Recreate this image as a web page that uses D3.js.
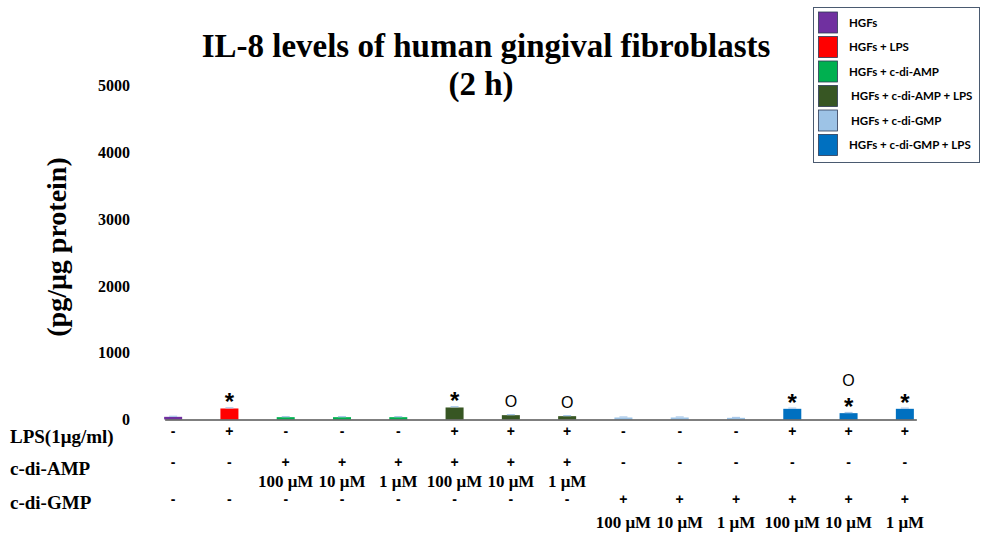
<!DOCTYPE html>
<html>
<head>
<meta charset="utf-8">
<script src="https://cdn.jsdelivr.net/npm/d3@7/dist/d3.min.js"></script>
<style>
  html, body { margin: 0; padding: 0; background: #fff; }
  svg { display: block; }
</style>
</head>
<body>
<svg id="chart" width="982" height="534"></svg>
<script>
// IL-8 levels per treatment (pg/µg protein), 2 h
const groups = ["HGFs", "HGFs + LPS", "HGFs + c-di-AMP", "HGFs + c-di-AMP + LPS", "HGFs + c-di-GMP", "HGFs + c-di-GMP + LPS"];
const groupColors = ["#7030a0", "#ff0000", "#00b050", "#375623", "#9dc3e6", "#0070c0"];
const barGroup = [0, 1, 2, 2, 2, 3, 3, 3, 4, 4, 4, 5, 5, 5];
const values = [40, 165, 35, 35, 35, 180, 65, 50, 30, 30, 25, 160, 95, 160];
const errors = [8, 10, 8, 8, 8, 12, 8, 8, 8, 8, 6, 10, 10, 10];
const starMarks = ["", "*", "", "", "", "*", "", "", "", "", "", "*", "*", "*"];
const circleMarks = ["", "", "", "", "", "", "O", "O", "", "", "", "", "O", ""];
const lpsRow = ["-", "+", "-", "-", "-", "+", "+", "+", "-", "-", "-", "+", "+", "+"];
const ampRow = ["-", "-", "+", "+", "+", "+", "+", "+", "-", "-", "-", "-", "-", "-"];
const ampConc = ["", "", "100 μM", "10 μM", "1 μM", "100 μM", "10 μM", "1 μM", "", "", "", "", "", ""];
const gmpRow = ["-", "-", "-", "-", "-", "-", "-", "-", "+", "+", "+", "+", "+", "+"];
const gmpConc = ["", "", "", "", "", "", "", "", "100 μM", "10 μM", "1 μM", "100 μM", "10 μM", "1 μM"];
const yTicks = [0, 1000, 2000, 3000, 4000, 5000];
const rowLabels = ["LPS(1μg/ml)", "c-di-AMP", "c-di-GMP"];

const serif = "'Liberation Serif', 'Times New Roman', serif";
const sans = "'Liberation Sans', Arial, sans-serif";

const svg = d3.select("#chart");
const idx = d3.range(values.length);

const x = d3.scaleBand().domain(idx).range([145, 933]).paddingInner(0.68).paddingOuter(0.34);
const y = d3.scaleLinear().domain([0, 5000]).range([419.5, 85.5]);
const cx = i => x(i) + x.bandwidth() / 2;

// Title
svg.append("text").attr("x", 486).attr("y", 57).attr("text-anchor", "middle")
  .attr("font-family", serif).attr("font-weight", "bold").attr("font-size", 33)
  .text("IL-8 levels of human gingival fibroblasts");
svg.append("text").attr("x", 481).attr("y", 95).attr("text-anchor", "middle")
  .attr("font-family", serif).attr("font-weight", "bold").attr("font-size", 33)
  .text("(2 h)");

// Y axis title
svg.append("text").attr("transform", "translate(66,247) rotate(-90)")
  .attr("text-anchor", "middle").attr("font-family", serif).attr("font-weight", "bold")
  .attr("font-size", 28).text("(pg/μg protein)");

// Y tick labels (no axis line, no tick marks)
svg.append("g").selectAll("text").data(yTicks).join("text")
  .attr("x", 130).attr("y", d => y(d)).attr("dy", "0.35em")
  .attr("text-anchor", "end").attr("font-family", serif).attr("font-weight", "bold")
  .attr("font-size", 16).text(d => d);

// Bars
svg.append("g").selectAll("rect").data(idx).join("rect")
  .attr("x", i => x(i)).attr("width", x.bandwidth())
  .attr("y", i => y(values[i])).attr("height", i => y(0) - y(values[i]))
  .attr("fill", i => groupColors[barGroup[i]]);

// Error caps
svg.append("g").selectAll("line").data(idx).join("line")
  .attr("x1", i => cx(i) - 4).attr("x2", i => cx(i) + 4)
  .attr("y1", i => y(values[i] + errors[i])).attr("y2", i => y(values[i] + errors[i]))
  .attr("stroke", "#a9c8ea").attr("stroke-width", 1.2);

// Baseline
svg.append("line")
  .attr("x1", x(0) + 1).attr("x2", x(idx.length - 1) + x.bandwidth() + 3)
  .attr("y1", y(0) + 0.5).attr("y2", y(0) + 0.5)
  .attr("stroke", "#555").attr("stroke-width", 1.6);

// Significance marks
svg.append("g").selectAll("text").data(idx.filter(i => starMarks[i])).join("text")
  .attr("x", i => cx(i)).attr("y", i => y(values[i]) + 2)
  .attr("text-anchor", "middle").attr("font-family", sans).attr("font-weight", "bold")
  .attr("font-size", 24)
  .text(i => starMarks[i]);
svg.append("g").selectAll("text").data(idx.filter(i => circleMarks[i])).join("text")
  .attr("x", i => cx(i))
  .attr("y", i => y(values[i]) - (starMarks[i] ? 27 : 8))
  .attr("text-anchor", "middle").attr("font-family", sans).attr("font-size", 16)
  .text(i => circleMarks[i]);

// Treatment rows below the axis
const rows = [
  { data: lpsRow, y: 436, size: 14, font: sans },
  { data: ampRow, y: 467, size: 14, font: sans },
  { data: ampConc, y: 487, size: 17, font: serif },
  { data: gmpRow, y: 504, size: 14, font: sans },
  { data: gmpConc, y: 528, size: 17, font: serif }
];
rows.forEach(r => {
  svg.append("g").selectAll("text").data(idx.filter(i => r.data[i])).join("text")
    .attr("x", i => cx(i)).attr("y", r.y)
    .attr("text-anchor", "middle")
    .attr("font-family", r.font).attr("font-weight", "bold").attr("font-size", r.size)
    .text(i => r.data[i]);
});

svg.append("g").selectAll("text").data(rowLabels).join("text")
  .attr("x", 10).attr("y", (d, i) => [443, 475, 509][i])
  .attr("font-family", serif).attr("font-weight", "bold").attr("font-size", 19)
  .text(d => d);

// Legend
const lg = svg.append("g");
lg.append("rect").attr("x", 813.5).attr("y", 7.5).attr("width", 166).attr("height", 155)
  .attr("fill", "#fff").attr("stroke", "#4a5a70").attr("stroke-width", 1);
const ly = d3.scaleLinear().domain([0, groups.length - 1]).range([22.5, 145]);
lg.selectAll("rect.sw").data(groups).join("rect").attr("class", "sw")
  .attr("x", 818.5).attr("y", (d, i) => ly(i) - 10.5).attr("width", 19).attr("height", 21)
  .attr("fill", (d, i) => groupColors[i]).attr("stroke", "#2d3a55").attr("stroke-width", 0.8);
lg.selectAll("text").data(groups).join("text")
  .attr("x", (d, i) => (i === 3 || i === 4) ? 851 : 849)
  .attr("y", (d, i) => ly(i) + 4)
  .attr("font-family", "Lato, 'Open Sans', sans-serif").attr("font-weight", "bold")
  .attr("font-size", 11.5).text(d => d);
</script>
</body>
</html>
